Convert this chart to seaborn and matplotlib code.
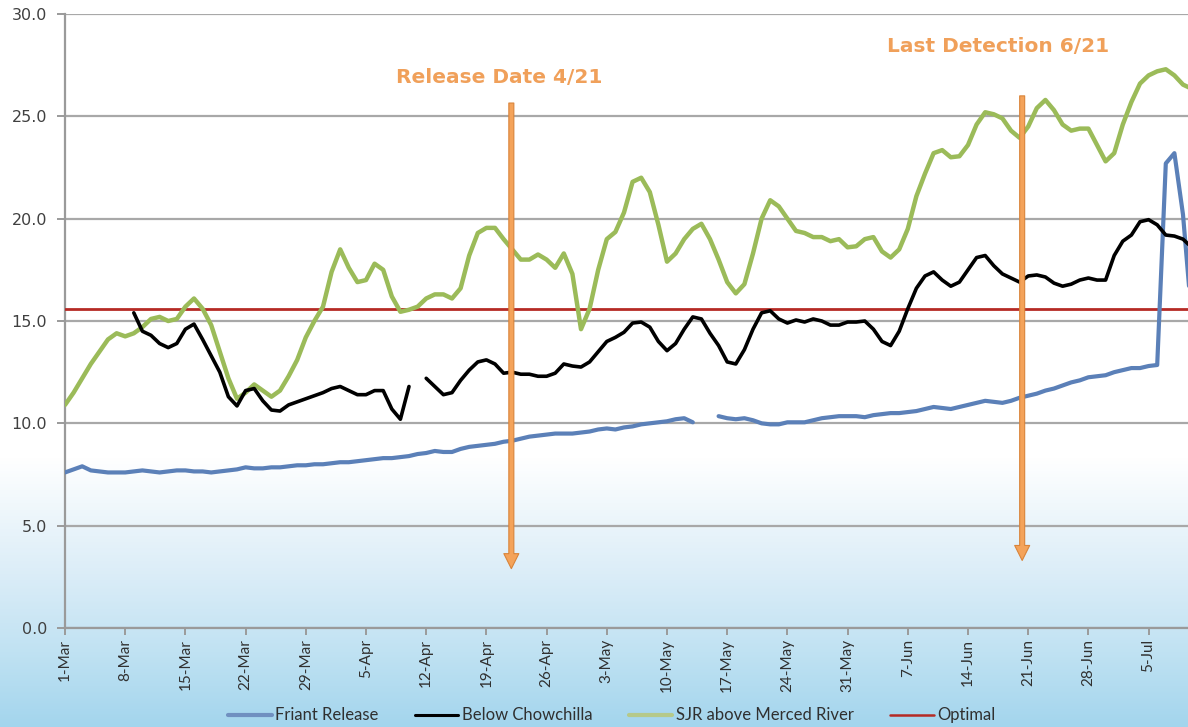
import numpy as np
import pandas as pd
import matplotlib
matplotlib.use("Agg")
import matplotlib.pyplot as plt
import seaborn as sns
from matplotlib.lines import Line2D

nan = np.nan

# ---------------- data (daily, starting 1-Mar) ----------------
tick_days = [0, 7, 14, 21, 28, 35, 42, 49, 56, 63, 70, 77, 84, 91, 98, 105, 112, 119, 126]
tick_labels = ["1-Mar", "8-Mar", "15-Mar", "22-Mar", "29-Mar", "5-Apr", "12-Apr", "19-Apr",
               "26-Apr", "3-May", "10-May", "17-May", "24-May", "31-May", "7-Jun", "14-Jun",
               "21-Jun", "28-Jun", "5-Jul"]

friant_release = [
    7.6, 7.75, 7.9, 7.7, 7.65, 7.6, 7.6, 7.6, 7.65, 7.7,
    7.65, 7.6, 7.65, 7.7, 7.7, 7.65, 7.65, 7.6, 7.65, 7.7,
    7.75, 7.85, 7.8, 7.8, 7.85, 7.85, 7.9, 7.95, 7.95, 8.0,
    8.0, 8.05, 8.1, 8.1, 8.15, 8.2, 8.25, 8.3, 8.3, 8.35,
    8.4, 8.5, 8.55, 8.65, 8.6, 8.6, 8.75, 8.85, 8.9, 8.95,
    9.0, 9.1, 9.15, 9.25, 9.35, 9.4, 9.45, 9.5, 9.5, 9.5,
    9.55, 9.6, 9.7, 9.75, 9.7, 9.8, 9.85, 9.95, 10.0, 10.05,
    10.1, 10.2, 10.25, 10.05, nan, nan, 10.35, 10.25, 10.2, 10.25,
    10.15, 10.0, 9.95, 9.95, 10.05, 10.05, 10.05, 10.15, 10.25, 10.3,
    10.35, 10.35, 10.35, 10.3, 10.4, 10.45, 10.5, 10.5, 10.55, 10.6,
    10.7, 10.8, 10.75, 10.7, 10.8, 10.9, 11.0, 11.1, 11.05, 11.0,
    11.1, 11.25, 11.35, 11.45, 11.6, 11.7, 11.85, 12.0, 12.1, 12.25,
    12.3, 12.35, 12.5, 12.6, 12.7, 12.7, 12.8, 12.85, 22.7, 23.2,
    20.2, 15.2,
]

below_chowchilla = [
    nan, nan, nan, nan, nan, nan, nan, nan, 15.4, 14.5,
    14.3, 13.9, 13.7, 13.9, 14.6, 14.85, 14.1, 13.3, 12.5, 11.3,
    10.85, 11.6, 11.7, 11.1, 10.65, 10.6, 10.9, 11.05, 11.2, 11.35,
    11.5, 11.7, 11.8, 11.6, 11.4, 11.4, 11.6, 11.6, 10.7, 10.2,
    11.8, nan, 12.2, 11.8, 11.4, 11.5, 12.1, 12.6, 13.0, 13.1,
    12.9, 12.45, 12.5, 12.4, 12.4, 12.3, 12.3, 12.45, 12.9, 12.8,
    12.75, 13.0, 13.5, 14.0, 14.2, 14.45, 14.9, 14.95, 14.7, 14.0,
    13.55, 13.9, 14.6, 15.2, 15.1, 14.4, 13.8, 13.0, 12.9, 13.6,
    14.6, 15.4, 15.5, 15.1, 14.9, 15.05, 14.95, 15.1, 15.0, 14.8,
    14.8, 14.95, 14.95, 15.0, 14.6, 14.0, 13.8, 14.5, 15.6, 16.6,
    17.2, 17.4, 17.0, 16.7, 16.9, 17.5, 18.1, 18.2, 17.7, 17.3,
    17.1, 16.9, 17.2, 17.25, 17.15, 16.85, 16.7, 16.8, 17.0, 17.1,
    17.0, 17.0, 18.2, 18.9, 19.2, 19.85, 19.95, 19.7, 19.2, 19.15,
    19.0, 18.6,
]

sjr_above_merced = [
    10.9, 11.5, 12.2, 12.9, 13.5, 14.1, 14.4, 14.25, 14.4, 14.7,
    15.1, 15.2, 15.0, 15.1, 15.7, 16.1, 15.6, 14.8, 13.5, 12.2,
    11.2, 11.5, 11.9, 11.6, 11.3, 11.6, 12.3, 13.1, 14.2, 15.0,
    15.7, 17.4, 18.5, 17.6, 16.9, 17.0, 17.8, 17.5, 16.2, 15.45,
    15.55, 15.7, 16.1, 16.3, 16.3, 16.1, 16.6, 18.2, 19.3, 19.55,
    19.55, 19.0, 18.5, 18.0, 18.0, 18.25, 18.0, 17.6, 18.3, 17.3,
    14.6, 15.6, 17.5, 19.0, 19.35, 20.3, 21.8, 22.0, 21.3, 19.7,
    17.9, 18.3, 19.0, 19.5, 19.75, 19.0, 18.0, 16.9, 16.35, 16.8,
    18.3, 20.0, 20.9, 20.6, 20.0, 19.4, 19.3, 19.1, 19.1, 18.9,
    19.0, 18.6, 18.65, 19.0, 19.1, 18.4, 18.1, 18.5, 19.5, 21.1,
    22.2, 23.2, 23.35, 23.0, 23.05, 23.6, 24.6, 25.2, 25.1, 24.9,
    24.3, 23.95, 24.5, 25.4, 25.8, 25.3, 24.6, 24.3, 24.4, 24.4,
    23.6, 22.8, 23.2, 24.6, 25.7, 26.6, 27.0, 27.2, 27.3, 27.0,
    26.55, 26.35,
]

optimal_value = 15.6
n_days = len(sjr_above_merced)
optimal = [optimal_value] * n_days

release_day = 51.9      # "Release Date 4/21" arrow
detection_day = 111.3   # "Last Detection 6/21" arrow

# ---------------- styling ----------------
sns.set_theme(style="white")
plt.rcParams["font.family"] = ["DejaVu Sans"]

W, H = 1188, 727
fig = plt.figure(figsize=(W / 100, H / 100), dpi=100)

# background gradient (white top -> light blue bottom)
stops_pos = [0.0, 0.63, 0.71, 0.80, 0.90, 1.0]
stops_col = [(1, 1, 1), (1, 1, 1), (0.93, 0.965, 0.985), (0.85, 0.925, 0.97),
             (0.75, 0.885, 0.95), (0.64, 0.835, 0.93)]
ys = np.linspace(0, 1, H)
grad = np.zeros((H, 1, 3))
for c in range(3):
    grad[:, 0, c] = np.interp(ys, stops_pos, [s[c] for s in stops_col])
bg = fig.add_axes([0, 0, 1, 1], zorder=-10)
bg.imshow(grad, aspect="auto", extent=[0, 1, 0, 1])
bg.axis("off")

x0, xr, y_top, y_bot = 65, 1188, 14, 628
ax = fig.add_axes([x0 / W, 1 - y_bot / H, 1 - x0 / W, (y_bot - y_top) / H])
ax.set_facecolor("none")


def seg_frame(vals):
    v = np.array(vals, dtype=float)
    seg = np.cumsum(np.isnan(v))
    df = pd.DataFrame({"day": np.arange(len(v)), "value": v, "seg": seg})
    return df.dropna()


c_blue = "#5b80b8"
c_green = "#9bbb59"
c_red = "#b52a25"

sns.lineplot(data=seg_frame(optimal), x="day", y="value", units="seg", estimator=None,
             color=c_red, lw=2.0, ax=ax, legend=False, sort=False, zorder=3)
sns.lineplot(data=seg_frame(friant_release), x="day", y="value", units="seg", estimator=None,
             color=c_blue, lw=3.0, ax=ax, legend=False, sort=False, zorder=4)
sns.lineplot(data=seg_frame(sjr_above_merced), x="day", y="value", units="seg", estimator=None,
             color=c_green, lw=3.2, ax=ax, legend=False, sort=False, zorder=4)
sns.lineplot(data=seg_frame(below_chowchilla), x="day", y="value", units="seg", estimator=None,
             color="black", lw=2.6, ax=ax, legend=False, sort=False, zorder=5)

ax.set_xlim(0, (xr - x0) / 8.6)
ax.set_ylim(0, 30)
ax.set_yticks(np.arange(0, 30.1, 5))
ax.set_yticklabels([f"{v:.1f}" for v in np.arange(0, 30.1, 5)])
ax.set_xticks(tick_days)
ax.set_xticklabels(tick_labels, rotation=90, family="Lato", fontsize=11, color="#303030")
ax.set_xlabel("")
ax.set_ylabel("")

ax.yaxis.grid(True, color="#a8a8a8", lw=1.6)
ax.xaxis.grid(False)
for s in ["top", "right"]:
    ax.spines[s].set_visible(False)
for s in ["left", "bottom"]:
    ax.spines[s].set_color("#9a9a9a")
    ax.spines[s].set_linewidth(1.6)
ax.tick_params(axis="y", left=True, length=6, width=1.4, color="#9a9a9a", pad=7,
               labelsize=11.5, labelcolor="#404040")
ax.tick_params(axis="x", bottom=True, length=5, width=1.4, color="#9a9a9a", pad=3)

# arrows and annotations
arrow_kw = dict(arrowstyle="simple,head_length=0.6,head_width=0.6,tail_width=0.2",
                fc="#f4a35a", ec="#d9843a", lw=0.8, mutation_scale=18,
                shrinkA=0, shrinkB=0)
ax.annotate("", xy=(release_day, 2.9), xytext=(release_day, 25.65),
            arrowprops=arrow_kw, zorder=6)
ax.annotate("", xy=(detection_day, 3.3), xytext=(detection_day, 26.0),
            arrowprops=arrow_kw, zorder=6)
ax.text(50.5, 26.9, "Release Date 4/21", ha="center", va="center",
        color="#f0a05a", fontsize=14.5, fontweight="bold", zorder=7)
ax.text(108.5, 28.4, "Last Detection 6/21", ha="center", va="center",
        color="#f0a05a", fontsize=14.5, fontweight="bold", zorder=7)

# legend
handles = [Line2D([], [], color="#7090c0", lw=3),
           Line2D([], [], color="black", lw=2.2),
           Line2D([], [], color="#b5c98a", lw=3),
           Line2D([], [], color=c_red, lw=1.8)]
labels = ["Friant Release", "Below Chowchilla", "SJR above Merced River", "Optimal"]
fig.legend(handles, labels, loc="center", bbox_to_anchor=(0.515, 0.016), ncol=4,
           frameon=False, handlelength=2.6, handletextpad=0.2, columnspacing=2.2,
           prop={"family": "Lato", "size": 12}, labelcolor="#303030")

fig.savefig("out.png", dpi=100)
